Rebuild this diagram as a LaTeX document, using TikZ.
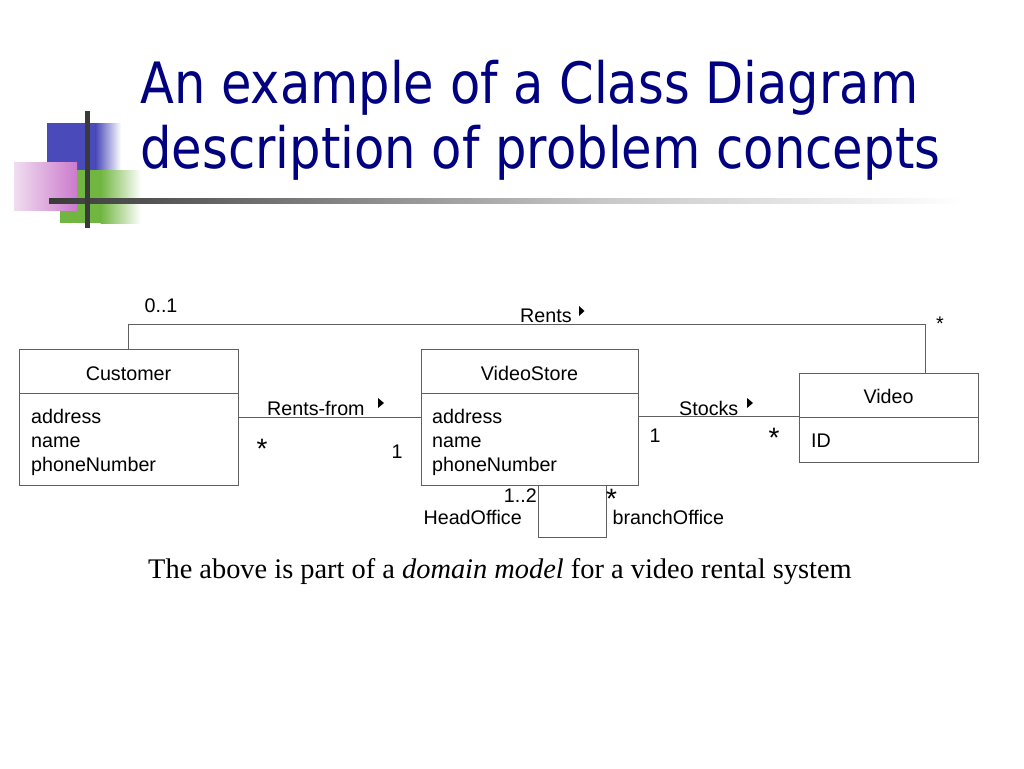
\documentclass[tikz,border=0pt]{standalone}
\usepackage{fontspec}
\usepackage{graphicx}
\newfontfamily\arialf{Liberation Sans}
\newfontfamily\timesf{Liberation Serif}
\newfontfamily\titlef{DejaVu Sans}
\definecolor{titlenavy}{RGB}{0,0,128}
\definecolor{decoblue}{RGB}{74,74,186}
\definecolor{decogreen}{RGB}{112,182,64}
\definecolor{decopink}{RGB}{204,122,204}
\definecolor{decopinklight}{RGB}{240,222,240}
\definecolor{decodark}{RGB}{58,58,58}
\definecolor{umlline}{RGB}{95,95,95}
\tikzset{
  clsbox/.style={draw=umlline, line width=0.9pt, inner sep=0pt, minimum width=#1},
  assoc/.style={draw=umlline, line width=0.9pt},
  lbl/.style={font=\arialf\fontsize{19.7}{24}\selectfont, inner sep=0pt},
  bigstar/.style={font=\arialf\fontsize{28}{30}\selectfont, inner sep=0pt, anchor=base},
  titletext/.style={font=\titlef\fontsize{57}{60}\selectfont, text=titlenavy, inner sep=0pt, anchor=base west},
}
\begin{document}
\begin{tikzpicture}[x=1pt,y=-1pt]
\useasboundingbox (0,0) rectangle (1024,768);
% decoration
\fill[decoblue] (47,123) rectangle (96,170);
\shade[left color=decoblue, right color=white] (95.5,123) rectangle (121,170);
\fill[decogreen] (60,170) rectangle (101,223);
\shade[left color=decogreen, right color=white] (100.5,170) rectangle (141,223);
\shade[left color=decopinklight, right color=decopink] (14,162) rectangle (77,210);
\shade[left color=decodark, right color=black!22] (49,198.5) rectangle (600,203.5);
\shade[left color=black!22, right color=white] (599.5,198.5) rectangle (965,203.5);
\fill[decodark] (85,111) rectangle (89.5,228);
% title
\node[titletext] (t1) at (140,103) {\resizebox{778pt}{\height}{An example of a Class Diagram}};
\node[titletext] (t2) at (140,168) {\resizebox{800pt}{\height}{description of problem concepts}};
% classes
\node[clsbox=219pt, minimum height=44pt] (custH) at (128.5,371) {};
\node[clsbox=219pt, minimum height=92pt] (custB) at (128.5,439) {};
\node[clsbox=217pt, minimum height=44pt] (vsH) at (529.5,371) {};
\node[clsbox=217pt, minimum height=92pt] (vsB) at (529.5,439) {};
\node[clsbox=179pt, minimum height=44pt] (vidH) at (888.5,395) {};
\node[clsbox=179pt, minimum height=45pt] (vidB) at (888.5,439.5) {};
\node[lbl, anchor=base] (custName) at ([yshift=-9pt]custH.center) {Customer};
\node[lbl, anchor=base] (vsName) at ([yshift=-9pt]vsH.center) {VideoStore};
\node[lbl, anchor=base] (vidName) at ([yshift=-8pt]vidH.center) {Video};
\node[lbl, anchor=base west] (ca1) at (31,423) {address};
\node[lbl, anchor=base west] (ca2) at (31,447) {name};
\node[lbl, anchor=base west] (ca3) at (31,471) {phoneNumber};
\node[lbl, anchor=base west] (va1) at (432,423) {address};
\node[lbl, anchor=base west] (va2) at (432,447) {name};
\node[lbl, anchor=base west] (va3) at (432,471) {phoneNumber};
\node[lbl, anchor=base west] (vid1) at (811,447) {ID};
% associations
\draw[assoc] ([yshift=-25pt]custB.north east) -- ([yshift=-25pt]vsB.north west);
\draw[assoc] (vsB.east |- vidB.north) -- (vidB.north west);
\draw[assoc] (custH.north) -- ++(0,-24) -| ([xshift=-53pt]vidH.north east);
\draw[assoc] ([xshift=-100pt]vsB.south east) -- ++(0,52) -| ([xshift=-32pt]vsB.south east);
% association labels
\node[lbl, anchor=base west] (rentsL) at (520,322) {Rents};
\fill (579,306) -- (584.5,311) -- (579,316) -- cycle;
\node[lbl, anchor=base west] (rfL) at (267,415) {Rents-from};
\fill (378,398) -- (384,403) -- (378,408) -- cycle;
\node[lbl, anchor=base west] (stL) at (679,415) {Stocks};
\fill (747,398) -- (753,403) -- (747,408) -- cycle;
% multiplicities
\node[lbl] (m01) at (161,306) {0..1};
\node[lbl, anchor=base] (mRentsStar) at (940,330) {*};
\node[bigstar] (mCustStar) at (262,458) {\smash{*}};
\node[lbl] (mVs1) at (397,452) {1};
\node[lbl] (mSt1) at (655,436) {1};
\node[bigstar] (mVidStar) at (774,447) {\smash{*}};
\node[lbl, anchor=base east] (m12) at (537,502) {1..2};
\node[bigstar] (mBrStar) at (611.5,508) {\smash{*}};
\node[lbl, anchor=base east] (headL) at (522,524) {HeadOffice};
\node[lbl, anchor=base west] (branchL) at (612.5,524) {branchOffice};
% caption
\node[font=\timesf\fontsize{28.4}{31}\selectfont, inner sep=0pt, anchor=base west] (cap) at (148,578) {The above is part of a \textit{domain model} for a video rental system};
\end{tikzpicture}
\end{document}
